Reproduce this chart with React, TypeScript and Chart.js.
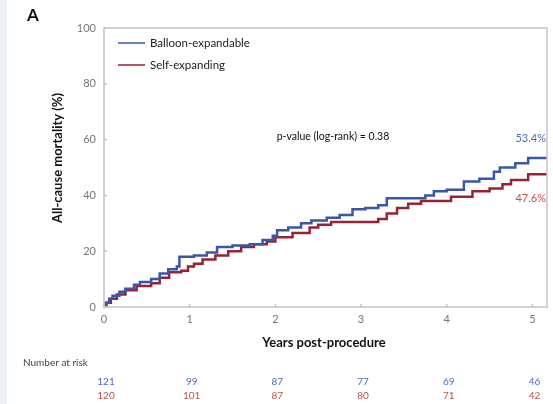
import React, { useEffect, useRef } from "react";
import { Chart, registerables } from "chart.js";

Chart.register(...registerables);

// Kaplan-Meier cumulative mortality (years, %)
const balloonTimes = [0, 0.02, 0.06, 0.1, 0.18, 0.25, 0.35, 0.42, 0.55, 0.65, 0.75, 0.85, 0.88, 1.05, 1.2, 1.32, 1.5, 1.7, 1.85, 1.97, 2.02, 2.15, 2.3, 2.42, 2.6, 2.75, 2.9, 3.05, 3.2, 3.3, 3.75, 3.85, 4.0, 4.2, 4.38, 4.55, 4.62, 4.8, 4.95, 5.17];
const balloonValues = [0, 1.5, 3, 4, 5.5, 6.5, 8, 9, 10, 12, 13.5, 14.5, 18, 18.5, 19.5, 21.5, 22, 22.5, 24, 25.5, 27.5, 28.5, 30, 31, 32, 33, 35, 35.5, 36.5, 39, 40, 41.5, 42, 45, 46, 48.5, 50, 51.5, 53.4, 53.4];
const selfTimes = [0, 0.03, 0.08, 0.15, 0.25, 0.38, 0.55, 0.65, 0.76, 0.9, 0.98, 1.05, 1.15, 1.3, 1.45, 1.6, 1.75, 1.9, 2.0, 2.2, 2.4, 2.5, 2.65, 3.2, 3.3, 3.42, 3.55, 3.7, 4.05, 4.3, 4.5, 4.65, 4.75, 4.95, 5.17];
const selfValues = [0, 1.5, 3, 4.5, 6, 7.5, 8.5, 10.5, 12.5, 13, 14.5, 15.5, 17, 18.5, 20, 21.5, 22.5, 23.5, 25, 26.5, 28.5, 29.5, 30.5, 31.5, 33.5, 35.5, 37, 38, 39.5, 41.5, 42.5, 44, 45.5, 47.6, 47.6];

const seriesNames = ["Balloon-expandable", "Self-expanding"];
const finalLabels = ["53.4%", "47.6%"];
const riskYears = [0, 1, 2, 3, 4, 5];
const riskBalloon = [121, 99, 87, 77, 69, 46];
const riskSelf = [120, 101, 87, 80, 71, 42];
const pValueText = "p-value (log-rank) = 0.38";
const panelLetter = "A";
const xTitle = "Years post-procedure";
const yTitle = "All-cause mortality (%)";
const riskTitle = "Number at risk";

const BLUE = "#3a57a7";
const RED = "#982236";
const BLUE_TXT = "#4a6cb5";
const RED_TXT = "#c0504d";
const FONT = "Lato, 'Liberation Sans', sans-serif";

const overlay = {
  id: "overlay",
  beforeDraw(chart: any) {
    const ctx = chart.ctx;
    ctx.save();
    ctx.fillStyle = "#edf1f6";
    ctx.fillRect(0, 0, 7, chart.height);
    ctx.restore();
  },
  afterDraw(chart: any) {
    const { ctx, chartArea: a } = chart;
    const xs = chart.scales.x;
    const ys = chart.scales.y;
    ctx.save();
    // box
    ctx.strokeStyle = "#c4c4c4";
    ctx.lineWidth = 1.5;
    ctx.strokeRect(a.left, a.top, a.right - a.left, a.bottom - a.top);
    // inward tick marks
    ctx.beginPath();
    xs.ticks.forEach((t: any) => {
      const px = xs.getPixelForValue(t.value);
      ctx.moveTo(px, a.bottom);
      ctx.lineTo(px, a.bottom - 3);
    });
    ys.ticks.forEach((t: any) => {
      const py = ys.getPixelForValue(t.value);
      ctx.moveTo(a.left, py);
      ctx.lineTo(a.left + 3, py);
    });
    ctx.stroke();

    // panel letter
    ctx.fillStyle = "#111";
    ctx.font = `bold 17px ${FONT}`;
    ctx.textAlign = "left";
    ctx.textBaseline = "middle";
    ctx.fillText(panelLetter, 27, 16);

    // legend
    const legendColors = [BLUE, RED];
    seriesNames.forEach((name, i) => {
      const y = 43 + i * 22;
      ctx.strokeStyle = legendColors[i];
      ctx.lineWidth = 1.5;
      ctx.beginPath();
      ctx.moveTo(118, y);
      ctx.lineTo(145, y);
      ctx.stroke();
      ctx.fillStyle = "#222";
      ctx.font = `11.5px ${FONT}`;
      ctx.textAlign = "left";
      ctx.fillText(name, 150, y);
    });

    // p-value
    ctx.fillStyle = "#111";
    ctx.font = `10.5px ${FONT}`;
    ctx.textAlign = "center";
    ctx.fillText(pValueText, 333, 137);

    // final labels
    ctx.font = `11px ${FONT}`;
    ctx.textAlign = "right";
    ctx.fillStyle = BLUE_TXT;
    ctx.fillText(finalLabels[0], a.right - 1, ys.getPixelForValue(balloonValues[balloonValues.length - 1]) - 20);
    ctx.fillStyle = RED_TXT;
    ctx.fillText(finalLabels[1], a.right - 1, ys.getPixelForValue(selfValues[selfValues.length - 1]) + 24);

    // axis titles
    ctx.fillStyle = "#111";
    ctx.font = `bold 13px ${FONT}`;
    ctx.textAlign = "center";
    ctx.fillText(xTitle, 324, 343);
    ctx.save();
    ctx.translate(58, 158);
    ctx.rotate(-Math.PI / 2);
    ctx.fillText(yTitle, 0, 0);
    ctx.restore();

    // number at risk
    ctx.fillStyle = "#444";
    ctx.font = `10px ${FONT}`;
    ctx.textAlign = "left";
    ctx.fillText(riskTitle, 23, 363);
    ctx.textAlign = "center";
    riskYears.forEach((yr, i) => {
      const px = xs.getPixelForValue(yr) + 2;
      ctx.fillStyle = BLUE_TXT;
      ctx.fillText(String(riskBalloon[i]), px, 382);
      ctx.fillStyle = RED_TXT;
      ctx.fillText(String(riskSelf[i]), px, 396);
    });
    ctx.restore();
  },
};

export default function App() {
  const ref = useRef<HTMLCanvasElement | null>(null);
  useEffect(() => {
    if (!ref.current) return;
    const chart = new Chart(ref.current, {
      type: "line",
      data: {
        datasets: [
          {
            label: seriesNames[0],
            data: balloonTimes.map((t, i) => ({ x: t, y: balloonValues[i] })),
            borderColor: BLUE,
            borderWidth: 2.5,
            pointRadius: 0,
            stepped: "before",
            fill: false,
          },
          {
            label: seriesNames[1],
            data: selfTimes.map((t, i) => ({ x: t, y: selfValues[i] })),
            borderColor: RED,
            borderWidth: 2.5,
            pointRadius: 0,
            stepped: "before",
            fill: false,
          },
        ],
      },
      options: {
        animation: false,
        responsive: false,
        maintainAspectRatio: false,
        layout: { padding: { left: 0, top: 28, right: 6, bottom: 0 } },
        plugins: { legend: { display: false }, tooltip: { enabled: false } },
        scales: {
          x: {
            type: "linear",
            min: 0,
            max: 5.17,
            grid: { display: false, drawTicks: false },
            border: { display: false },
            ticks: {
              stepSize: 1,
              includeBounds: false,
              padding: 6,
              color: "#777",
              font: { family: FONT, size: 11 },
            },
            afterFit: (s: any) => {
              s.height = 97;
            },
          },
          y: {
            min: 0,
            max: 100,
            grid: { display: false, drawTicks: false },
            border: { display: false },
            ticks: {
              stepSize: 20,
              padding: 8,
              color: "#777",
              font: { family: FONT, size: 11 },
            },
            afterFit: (s: any) => {
              s.width = 104;
            },
          },
        },
      },
      plugins: [overlay],
    } as any);
    return () => chart.destroy();
  }, []);
  return (
    <div style={{ position: "fixed", left: 0, top: 0, width: 553, height: 404, background: "#fff" }}>
      <canvas ref={ref} width={553} height={404} style={{ width: 553, height: 404, display: "block" }} />
    </div>
  );
}
